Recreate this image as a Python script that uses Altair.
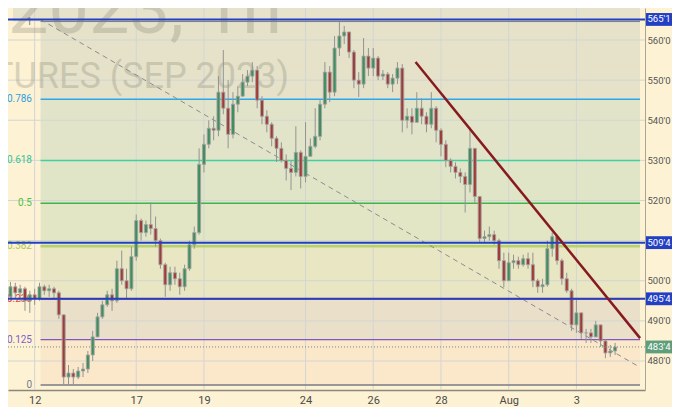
import altair as alt
import pandas as pd

# ---------------- data ----------------
bars_per_day = 7
first_bar_day = -6 / 7          # trading-day index of first hourly bar (12 Jul = day 0)
first_open = 493.0
bar_close = [496, 498.5, 497, 498, 495, 496.5, 495.5, 498.5, 497.5, 498, 497, 491.5, 476, 477, 476, 477.5,
             478, 481.5, 486, 491, 494, 496.5, 495, 503, 500, 498, 506, 515, 512, 514, 513, 510,
             504, 499, 502, 500.5, 498.5, 503, 509, 512, 529, 534, 538, 537.5, 547, 543, 536.5, 544,
             546, 549.5, 551, 552.5, 545, 541, 539, 535.5, 533, 530, 528, 527, 532, 526, 531, 533.5,
             536, 544, 552, 547, 558, 561, 562, 557, 550, 549, 556, 553, 555.5, 551, 551.5, 549,
             550.5, 553, 540, 541, 539.5, 543, 541, 539, 543, 537.5, 534, 530, 528.5, 527, 526, 524,
             533, 521, 510.5, 511, 511.5, 510, 505, 500, 504.5, 505, 504, 505.5, 504, 500, 498.5, 499,
             508, 511, 505, 500.5, 497.5, 489, 492, 487, 487, 486, 489, 485, 482, 482.5, 483.5]
bar_high = [497, 499.7, 499.5, 499, 498.5, 497.5, 498, 499.5, 499, 499, 498.5, 497.5, 491.5, 479, 478, 478.5,
            479.5, 482.5, 487.5, 492, 495, 497.5, 498, 505, 507.5, 503, 508.5, 516.5, 515.5, 515, 519.5, 516,
            510.5, 504.5, 503.5, 503.5, 502, 504, 510, 513.5, 533, 536.5, 540, 541, 551, 557.5, 550, 547,
            548.5, 551.5, 552.5, 554.5, 553.5, 546, 542.5, 539.5, 536, 534.5, 531.5, 530, 538.5, 532.5, 539.5, 535.5,
            543, 545, 554.5, 553.5, 561, 564.5, 563.5, 562, 557.5, 552, 560.5, 558, 558, 556, 552.5, 552,
            551.5, 554.5, 554, 543, 543, 547, 545.5, 542, 547, 543.5, 538, 535, 530.5, 529.5, 528, 527,
            538.3, 533, 516.5, 512.5, 513.5, 512.5, 510.5, 507, 507, 506.5, 506, 506.5, 507, 507, 500.5, 500.5,
            510, 512, 511.5, 505.5, 502, 498, 495.5, 492, 488, 488, 490, 489, 485.5, 484, 484.5]
bar_low = [491.5, 495, 495.5, 495, 492.5, 492, 494, 495, 496.5, 496, 495.5, 490.5, 474, 474.2, 474, 475.5,
           476, 477, 480, 486.5, 490.5, 493.5, 492.5, 494.5, 499, 495.5, 497.5, 505, 510, 511, 511.5, 508.5,
           503, 496, 497.5, 499, 496.5, 497.5, 502.5, 508, 511.5, 527, 533, 535, 536, 541.5, 533, 535.5,
           542, 546, 548.5, 549.5, 543, 539, 537, 533.5, 529.6, 529.5, 525, 522.6, 526, 523, 524.5, 531.5,
           533, 535, 543, 544.5, 546, 556, 559, 555.5, 548, 545.8, 548, 551, 551, 550, 550, 548,
           547, 549, 537, 538, 536.5, 539.5, 539, 537, 538, 534.5, 531, 528.3, 527, 525.5, 524.4, 517,
           522, 519.5, 509.5, 509.5, 510, 509, 503, 498.4, 502, 503, 503, 503.5, 503, 498.4, 497, 497,
           498.5, 506, 504, 499, 497, 487.5, 487, 485.5, 484.5, 484.5, 486, 483.5, 480.7, 481, 481.5]

day_ticks = [0, 3, 5, 8, 10, 12, 14, 16]
day_labels = ["12", "17", "19", "24", "26", "28", "Aug", "3"]
price_ticks = [480, 490, 500, 510, 520, 530, 540, 550, 560]

fib_high = 564.6
fib_low = 474.0
fib_start_day = 0.174
fib_ratios = [0, 0.125, 0.236, 0.382, 0.5, 0.618, 0.786, 1]
fib_labels = ["0", "0.125", "0.236", "0.382", "0.5", "0.618", "0.786", "1"]
fib_line_colors = ["#787b86", "#7e57c2", "#f23645", "#b5d36a", "#3fb54a", "#3fd1a0", "#2ea8ec", "#787b86"]
fib_label_colors = ["#787b86", "#7e5fc8", "#e8453c", "#a9c954", "#4fc046", "#34c596", "#2f9fe0", "#787b86"]
fib_line_widths = [1.5, 1.3, 1, 2.5, 1.5, 1.5, 1.5, 1]
band_colors = ["#fbe7c9", "#eadfc8", "#e8e6c3", "#e2e6c5", "#e1e5c7", "#e2e4c9", "#e5e2c9"]
above_color = "#e6e2cc"

hline_prices = [565.125, 509.5, 495.5]
hline_labels = ["565'1", "509'4", "495'4"]
last_price = 483.5
last_label = "483'4"

trend_days = [11.25, 17.88]
trend_prices = [554.5, 485.7]
dash_days = [0.174, 17.78]
dash_prices = [565.1, 478.9]

# ---------------- layout constants ----------------
W, H = 637, 382
RP = 27
x_dom = [-0.6395, 17.878]
y_dom = [472.77, 567.98]
bg = "#fdf2d4"
font = "Roboto"

# ---------------- tables ----------------
n = len(bar_close)
bar_open = [first_open] + bar_close[:-1]
candles = pd.DataFrame({
    "t": [first_bar_day + i / bars_per_day for i in range(n)],
    "open": bar_open, "close": bar_close, "high": bar_high, "low": bar_low,
})

fib_prices = [fib_low + r * (fib_high - fib_low) for r in fib_ratios]
fib_df = pd.DataFrame({"p": fib_prices, "label": fib_labels, "lc": fib_line_colors,
                       "tc": fib_label_colors, "w": fib_line_widths,
                       "t0": fib_start_day, "t1": x_dom[1]})
bands_df = pd.DataFrame({"lo": fib_prices[:-1], "hi": fib_prices[1:], "c": band_colors,
                         "t0": fib_start_day, "t1": x_dom[1]})
top_df = pd.DataFrame({"lo": [fib_prices[-1]], "hi": [y_dom[1]], "t0": [x_dom[0]], "t1": [x_dom[1]]})
hgrid_df = pd.DataFrame({"p": price_ticks})
vgrid_df = pd.DataFrame({"t": day_ticks})
hl_df = pd.DataFrame({"p": hline_prices, "label": hline_labels})
last_df = pd.DataFrame({"p": [last_price], "label": [last_label]})
trend_df = pd.DataFrame({"t": trend_days, "p": trend_prices})
dash_df = pd.DataFrame({"t": dash_days, "p": dash_prices})

xs = alt.Scale(domain=x_dom, nice=False, zero=False)
ys = alt.Scale(domain=y_dom, nice=False, zero=False)

label_expr = ""
for v, lab in zip(day_ticks, day_labels):
    label_expr += f"datum.value == {v} ? '{lab}' : "
label_expr += "''"

x_axis = alt.Axis(values=day_ticks, labelExpr=label_expr, title=None, grid=False, ticks=False,
                  domainColor="#8a877d", domainWidth=1.5, labelFontSize=11, labelColor="#4a4a4a",
                  labelPadding=4, labelFont=font, labelFlush=False, labelOverlap=False, zindex=0)
y_axis = alt.Axis(values=price_ticks, orient="right", title=None, grid=False, ticks=False,
                  labelExpr='format(datum.value, "d") + "\'0"', domainColor="#a8a597",
                  labelFontSize=9.5, labelColor="#555555", labelPadding=2, labelFont=font,
                  labelAlign="left", labelOverlap=False, zindex=0)


def X(f):
    return alt.X(f, type="quantitative", scale=xs, axis=x_axis)


def Y(f):
    return alt.Y(f, type="quantitative", scale=ys, axis=y_axis)


top_band = alt.Chart(top_df).mark_rect(color=above_color, clip=True).encode(
    x=X("t0"), x2="t1", y=Y("lo"), y2="hi")
bands = alt.Chart(bands_df).mark_rect(clip=True).encode(
    x=X("t0"), x2="t1", y=Y("lo"), y2="hi", color=alt.Color("c:N", scale=None))
hgrid = alt.Chart(hgrid_df).mark_rule(color="#d2d6d3", strokeWidth=1, clip=True).encode(
    y=Y("p"), x=alt.value(0), x2=alt.value(W))
vgrid = alt.Chart(vgrid_df).mark_rule(color="#d2d6d3", strokeWidth=1, clip=True).encode(
    x=X("t"), y=alt.value(0), y2=alt.value(H))

wm1 = alt.Chart(pd.DataFrame({"s": ["2023, 1h"]})).mark_text(
    align="right", baseline="alphabetic", fontSize=72, font=font, color="#8a877a", opacity=0.3
).encode(text="s:N", x=alt.value(274), y=alt.value(25))
wm2 = alt.Chart(pd.DataFrame({"s": ["TURES (SEP 2023)"]})).mark_text(
    align="right", baseline="alphabetic", fontSize=36, font=font, color="#8a877a", opacity=0.3
).encode(text="s:N", x=alt.value(281), y=alt.value(80))

fib_lines = alt.Chart(fib_df).mark_rule(clip=True).encode(
    x=X("t0"), x2="t1", y=Y("p"), color=alt.Color("lc:N", scale=None),
    strokeWidth=alt.StrokeWidth("w:Q", scale=None))
fib_text = alt.Chart(fib_df).mark_text(align="right", baseline="middle", fontSize=10, font=font).encode(
    y=Y("p"), x=alt.value(24), text="label:N", color=alt.Color("tc:N", scale=None))

dash = alt.Chart(dash_df).mark_line(color="#8c8c8c", strokeDash=[5, 4], strokeWidth=1, clip=True).encode(
    x=X("t"), y=Y("p"))

wicks = alt.Chart(candles).mark_rule(color="#939393", strokeWidth=1, clip=True).encode(
    x=X("t"), y=Y("low"), y2="high")
bodies = alt.Chart(candles).mark_bar(size=3, clip=True, stroke="#a2a2a2", strokeWidth=0.9).encode(
    x=X("t"), y=Y("open"), y2="close",
    color=alt.condition("datum.close >= datum.open", alt.value("#3f8f5c"), alt.value("#a33b35")))

hlines = alt.Chart(hl_df).mark_rule(color="#2340c4", strokeWidth=2).encode(
    y=Y("p"), x=alt.value(0), x2=alt.value(W))
trend = alt.Chart(trend_df).mark_line(color="#861a1f", strokeWidth=2.5, clip=True).encode(
    x=X("t"), y=Y("p"))
last_line = alt.Chart(last_df).mark_rule(color="#6f8f78", strokeDash=[1, 2], strokeWidth=1).encode(
    y=Y("p"), x=alt.value(0), x2=alt.value(W))

hl_box = alt.Chart(hl_df).transform_calculate(lo="datum.p - 1.6", hi="datum.p + 1.6").mark_rect(
    color="#2340c4").encode(y=Y("lo:Q"), y2="hi:Q", x=alt.value(W + 1), x2=alt.value(W + RP))
hl_txt = alt.Chart(hl_df).mark_text(color="white", fontSize=9.5, font=font, align="center",
                                     baseline="middle").encode(
    y=Y("p"), x=alt.value(W + 14), text="label:N")
last_box = alt.Chart(last_df).transform_calculate(lo="datum.p - 1.6", hi="datum.p + 1.6").mark_rect(
    color="#5e9e7b").encode(y=Y("lo:Q"), y2="hi:Q", x=alt.value(W + 1), x2=alt.value(W + RP))
last_txt = alt.Chart(last_df).mark_text(color="white", fontSize=9.5, font=font, align="center",
                                         baseline="middle").encode(
    y=Y("p"), x=alt.value(W + 14), text="label:N")

chart = alt.layer(
    top_band, bands, hgrid, vgrid, wm1, wm2, fib_lines, fib_text, dash,
    wicks, bodies, hlines, trend, last_line, hl_box, hl_txt, last_box, last_txt
).properties(
    width=W, height=H,
    autosize=alt.AutoSizeParams(type="none"),
    padding={"left": 0, "top": 0, "right": RP, "bottom": 17},
).configure(background=bg).configure_view(strokeWidth=0, fill=bg)

chart.save("out.html", embed_options={"renderer": "svg", "actions": False})
